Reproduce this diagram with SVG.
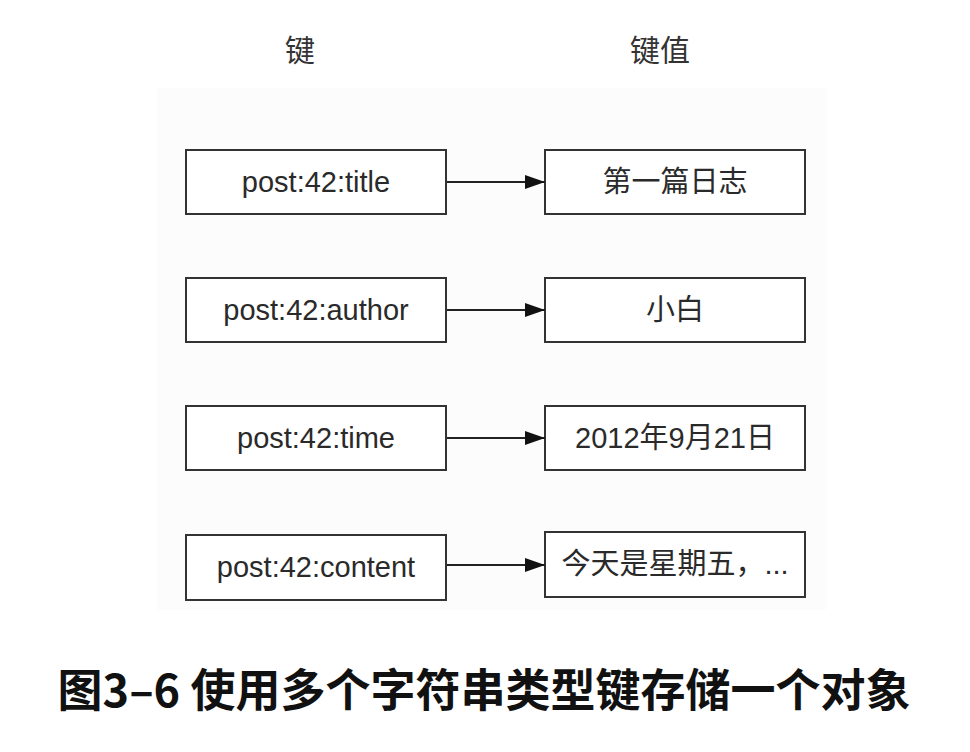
<svg xmlns="http://www.w3.org/2000/svg" width="970" height="752" viewBox="0 0 970 752">
<style>
.box{fill:#fff;stroke:#333;stroke-width:2}
.t{font-family:"Liberation Sans","Noto Sans CJK SC",sans-serif;font-size:29px;fill:#2a2a2a;text-anchor:middle}
.h{font-family:"Noto Sans CJK SC",sans-serif;font-size:30px;fill:#333;text-anchor:middle}
.cap{font-family:"Noto Sans CJK SC",sans-serif;font-size:45px;font-weight:bold;fill:#111;text-anchor:middle}
.conn{stroke:#222;stroke-width:2;fill:none;marker-end:url(#ah)}
</style>
<defs>
<marker id="ah" markerWidth="20" markerHeight="14" refX="20" refY="7" orient="auto" markerUnits="userSpaceOnUse">
<path d="M0,0 L20,7 L0,14 Z" fill="#111"/>
</marker>
</defs>
<rect width="970" height="752" fill="#fff"/>
<rect x="157" y="88" width="669" height="522" fill="#fcfcfc"/>
<g id="headers">
<text class="h" x="300" y="61">键</text>
<text class="h" x="660" y="61">键值</text>
</g>
<g id="k1"><rect class="box" x="186" y="150" width="260" height="64"/><text class="t" x="316" y="192">post:42:title</text></g>
<g id="v1"><rect class="box" x="545" y="150" width="260" height="64"/><text class="t" x="675" y="192">第一篇日志</text></g>
<g id="k2"><rect class="box" x="186" y="278" width="260" height="64"/><text class="t" x="316" y="320">post:42:author</text></g>
<g id="v2"><rect class="box" x="545" y="278" width="260" height="64"/><text class="t" x="675" y="320">小白</text></g>
<g id="k3"><rect class="box" x="186" y="406" width="260" height="64"/><text class="t" x="316" y="448">post:42:time</text></g>
<g id="v3"><rect class="box" x="545" y="406" width="260" height="64"/><text class="t" x="675" y="448">2012年9月21日</text></g>
<g id="k4"><rect class="box" x="186" y="535" width="260" height="65"/><text class="t" x="316" y="577">post:42:content</text></g>
<g id="v4"><rect class="box" x="545" y="532" width="260" height="65"/><text class="t" x="675" y="574">今天是星期五，...</text></g>
<g id="connectors">
<line class="conn" x1="447" y1="182" x2="545" y2="182"/>
<line class="conn" x1="447" y1="310" x2="545" y2="310"/>
<line class="conn" x1="447" y1="438" x2="545" y2="438"/>
<line class="conn" x1="447" y1="565" x2="545" y2="565"/>
</g>
<text class="cap" x="484" y="707">图3–6 使用多个字符串类型键存储一个对象</text>
</svg>
